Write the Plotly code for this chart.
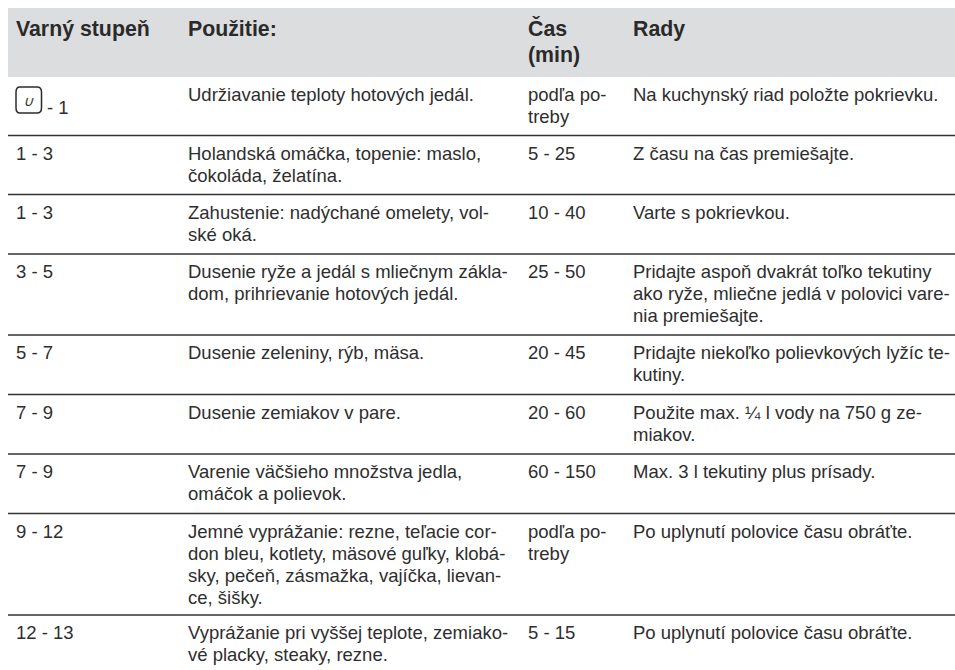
import plotly.graph_objects as go

FONT = "Liberation Sans"
TEXT_COLOR = "#2e2e2e"

headers = [["Varný stupeň"], ["Použitie:"], ["Čas", "(min)"], ["Rady"]]

stupen = ["- 1", "1 - 3", "1 - 3", "3 - 5", "5 - 7", "7 - 9", "7 - 9", "9 - 12", "12 - 13"]

pouzitie = [
    ["Udržiavanie teploty hotových jedál."],
    ["Holandská omáčka, topenie: maslo,", "čokoláda, želatína."],
    ["Zahustenie: nadýchané omelety, vol-", "ské oká."],
    ["Dusenie ryže a jedál s mliečnym zákla-", "dom, prihrievanie hotových jedál."],
    ["Dusenie zeleniny, rýb, mäsa."],
    ["Dusenie zemiakov v pare."],
    ["Varenie väčšieho množstva jedla,", "omáčok a polievok."],
    ["Jemné vyprážanie: rezne, teľacie cor-", "don bleu, kotlety, mäsové guľky, klobá-",
     "sky, pečeň, zásmažka, vajíčka, lievan-", "ce, šišky."],
    ["Vyprážanie pri vyššej teplote, zemiako-", "vé placky, steaky, rezne."],
]

cas = [
    ["podľa po-", "treby"], ["5 - 25"], ["10 - 40"], ["25 - 50"], ["20 - 45"], ["20 - 60"],
    ["60 - 150"], ["podľa po-", "treby"], ["5 - 15"],
]

rady = [
    ["Na kuchynský riad položte pokrievku."],
    ["Z času na čas premiešajte."],
    ["Varte s pokrievkou."],
    ["Pridajte aspoň dvakrát toľko tekutiny", "ako ryže, mliečne jedlá v polovici vare-", "nia premiešajte."],
    ["Pridajte niekoľko polievkových lyžíc te-", "kutiny."],
    ["Použite max. ¼ l vody na 750 g ze-", "miakov."],
    ["Max. 3 l tekutiny plus prísady."],
    ["Po uplynutí polovice času obráťte."],
    ["Po uplynutí polovice času obráťte."],
]

# Layout: axes are in page pixels and the plot fills the page
W, H = 955, 670
COL_X = [16, 188, 528, 633]
HEAD_TOP, HEAD_BOTTOM, LEFT = 8, 77, 8
ROW_TOPS = [77, 135.5, 194.5, 254, 335, 394.5, 454, 513.5, 615]
RULES = ROW_TOPS[1:]
LINE = 22
FIRST = 19.8
SIZE = 18.5


def cell_points(x, top, lines):
    return [x] * len(lines), [top + i * LINE for i in range(len(lines))], lines


xs, ys, ts = [], [], []
for col, rows in zip(COL_X[1:], [pouzitie, cas, rady]):
    for top, lines in zip(ROW_TOPS, rows):
        a, b, c = cell_points(col, top + FIRST, lines)
        xs += a; ys += b; ts += c
for i, (top, s) in enumerate(zip(ROW_TOPS, stupen)):
    x = COL_X[0] + (31 if i == 0 else 0)
    y = top + FIRST + (13 if i == 0 else 0)
    xs.append(x); ys.append(y); ts.append(s)

hx, hy, ht = [], [], []
for col, lines in zip(COL_X, headers):
    hx += [col] * len(lines)
    hy += [30.5 + i * 26.5 for i in range(len(lines))]
    ht += [f"<b>{t}</b>" for t in lines]

fig = go.Figure()
fig.add_trace(go.Scatter(x=xs, y=ys, text=ts, mode="text", textposition="middle right",
                         textfont=dict(family=FONT, size=SIZE, color=TEXT_COLOR),
                         hoverinfo="skip", showlegend=False, cliponaxis=False))
fig.add_trace(go.Scatter(x=hx, y=hy, text=ht, mode="text", textposition="middle right",
                         textfont=dict(family=FONT, size=21.3, color="#2a2a2a"),
                         hoverinfo="skip", showlegend=False, cliponaxis=False))
fig.add_trace(go.Scatter(x=[22.5], y=[102.5], text=["<i>∪</i>"], mode="text", textposition="middle right",
                         textfont=dict(family=FONT, size=14, color=TEXT_COLOR),
                         hoverinfo="skip", showlegend=False, cliponaxis=False))

shapes = [dict(type="rect", x0=LEFT, x1=W, y0=HEAD_TOP, y1=HEAD_BOTTOM,
               fillcolor="#dcddde", line_width=0, layer="below")]
for y in RULES:
    shapes.append(dict(type="line", x0=LEFT, x1=W, y0=y, y1=y,
                       line=dict(color="#333333", width=1.7), layer="below"))
shapes.append(dict(type="path",
                   path="M 20,87 L 37,87 Q 41.5,87 41.5,92 L 41.5,108 Q 41.5,113 37,113 "
                        "L 20,113 Q 16,113 16,108 L 16,92 Q 16,87 20,87 Z",
                   line=dict(color="#2b2b2b", width=1.5), fillcolor="rgba(0,0,0,0)"))

fig.update_layout(
    width=W, height=H, margin=dict(l=0, r=0, t=0, b=0),
    paper_bgcolor="white", plot_bgcolor="white", shapes=shapes, showlegend=False,
    xaxis=dict(range=[0, W], visible=False, fixedrange=True),
    yaxis=dict(range=[H, 0], visible=False, fixedrange=True),
)
fig.write_html("out.html", config={"displayModeBar": False},
               default_width=f"{W}px", default_height=f"{H}px",
               post_script="document.body.style.margin='0';document.documentElement.style.overflow='hidden';")
